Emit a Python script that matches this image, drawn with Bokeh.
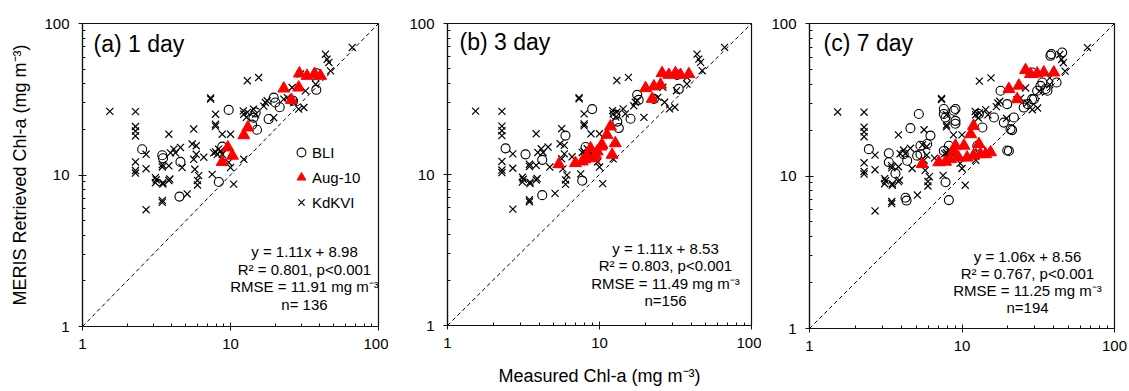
from bokeh.plotting import figure
from bokeh.layouts import row
from bokeh.models import FixedTicker, PrintfTickFormatter, Label, Legend, LegendItem
from bokeh.embed import file_html
from bokeh.resources import INLINE

# ---------------- data ----------------
major_ticks = [1, 10, 100]
minor_ticks = [2, 3, 4, 5, 6, 7, 8, 9, 20, 30, 40, 50, 60, 70, 80, 90]
one_to_one = [1, 100]

# KdKVI (same match-ups in every panel)
kd_x = [1.53, 2.28, 2.28, 2.28, 2.28, 2.28, 2.28, 2.28, 2.69, 2.69, 2.69, 3.11, 3.11, 3.15,
        3.46, 3.46, 3.46, 3.46, 3.49, 3.49, 3.83, 3.83, 3.83, 3.89, 3.93, 4.14, 4.25, 4.59, 4.71,
        5.10, 5.64, 5.51, 5.64, 5.74, 5.98, 5.98, 5.87, 5.87, 6.10, 6.60, 7.34, 7.34, 7.52,
        7.92, 7.92, 7.92, 7.92, 8.15, 8.56, 8.79, 7.70, 8.30, 8.79, 10.0, 9.72, 10.0, 10.5,
        12.3, 12.2, 12.3, 13.0, 12.8, 13.0, 15.5, 14.3, 14.8, 17.2, 17.7, 16.8, 19.6,
        22.9, 24.2, 26.1, 26.8, 28.9, 29.7, 31.3, 32.1, 37.6, 37.6, 43.8, 45.0, 46.2, 47.4, 66.5]
kd_y = [26.3, 26.2, 20.9, 19.5, 18.1, 12.2, 10.7, 10.3, 13.7, 11.0, 5.9, 9.6, 8.9, 9.3,
        11.7, 11.3, 6.6, 6.8, 8.9, 8.7, 18.6, 11.5, 9.2, 9.4, 14.0, 14.8, 14.0, 15.2, 11.2,
        7.5, 20.1, 16.0, 12.7, 10.9, 9.2, 8.6, 15.6, 13.7, 9.9, 13.1, 31.7, 32.3, 10.1,
        25.2, 21.6, 21.0, 14.2, 13.7, 14.4, 13.7, 14.0, 14.8, 18.6, 18.6, 12.1, 11.2, 8.7,
        12.7, 26.5, 25.2, 25.9, 24.0, 41.9, 44.0, 27.2, 25.2, 30.1, 30.9, 28.5, 23.9,
        31.7, 32.4, 37.8, 30.1, 27.2, 46.4, 27.9, 35.9, 39.7, 44.0, 62.7, 58.1, 55.3, 48.7, 69.5]

# BLI
bli_1d_x = [2.53, 3.46, 3.50, 4.59, 4.52, 8.34, 9.72, 8.79, 14.0, 14.3, 14.8, 15.1, 18.1,
            19.6, 20.1, 21.5, 26.5, 38.0, 38.0]
bli_1d_y = [14.8, 13.5, 12.9, 12.2, 7.2, 9.0, 26.9, 15.4, 21.5, 23.9, 25.9, 19.9, 23.4,
            32.4, 30.1, 28.0, 30.9, 36.5, 47.0]
bli_3d_x = [2.41, 3.26, 4.20, 4.20, 5.97, 7.70, 8.10, 8.95, 12.7, 13.1, 13.4, 16.0, 17.7,
            18.1, 22.8, 33.2, 32.4]
bli_3d_y = [14.9, 13.6, 12.5, 7.3, 18.1, 9.1, 15.2, 27.1, 24.9, 22.4, 20.3, 23.4, 33.7,
            31.2, 31.7, 36.9, 45.7]
bli_7d_x = [2.45, 3.31, 3.31, 3.66, 4.15, 4.26, 4.33, 4.59, 4.37, 5.21, 5.34, 5.34, 5.91,
            6.21, 5.08, 7.60, 7.80, 8.84, 9.06, 7.80, 8.20, 7.60, 8.20, 9.06, 7.60, 9.06,
            12.9, 13.6, 12.6, 13.2, 16.2, 18.8, 17.9, 19.8, 20.8, 21.3, 21.9, 19.8, 20.3,
            25.4, 27.0, 28.8, 29.6, 31.1, 32.7, 33.6, 35.3, 36.3, 41.7, 38.0, 38.5, 45.4, 28.8]
bli_7d_y = [15.0, 14.1, 12.3, 10.4, 13.9, 7.2, 6.9, 20.6, 12.6, 25.5, 15.8, 13.9, 16.2,
            18.4, 13.6, 25.5, 24.2, 26.8, 23.0, 9.1, 6.95, 14.6, 15.8, 22.0, 27.5, 27.5,
            25.5, 20.8, 15.8, 15.0, 24.2, 22.4, 36.2, 29.6, 20.3, 20.0, 24.2, 14.7, 14.6,
            28.1, 29.6, 31.9, 31.9, 36.2, 39.0, 41.0, 37.2, 36.2, 41.0, 61.4, 63.0, 64.5, 47.7]

# Aug-10
aug_1d_x = [8.79, 9.60, 10.3, 12.3, 13.1, 22.9, 25.8, 28.9, 29.2, 32.9, 37.0, 40.6]
aug_1d_y = [12.2, 15.2, 13.4, 18.3, 20.6, 37.2, 31.3, 37.8, 46.8, 45.1, 46.4, 45.1]
aug_3d_x = [5.40, 6.95, 7.70, 8.00, 8.30, 8.73, 9.17, 9.40, 9.66, 10.2, 10.4, 11.2, 11.8,
            12.1, 12.7, 20.1, 22.2, 22.8, 25.2, 25.8, 28.6, 31.6, 34.1, 38.7]
aug_3d_y = [11.7, 11.9, 12.2, 12.6, 13.2, 14.9, 12.8, 13.5, 14.2, 15.3, 15.7, 18.3, 20.8,
            13.5, 16.1, 37.3, 31.7, 38.3, 39.3, 46.9, 45.7, 46.9, 45.7, 46.2]
aug_7d_x = [5.48, 7.05, 7.80, 8.40, 8.80, 9.06, 9.50, 10.3, 10.8, 11.4, 11.9, 11.9, 12.9,
            13.2, 14.3, 15.4, 20.3, 23.6, 23.0, 26.1, 28.1, 31.1, 34.4, 40.0]
aug_7d_y = [12.0, 12.3, 12.4, 12.9, 14.6, 15.8, 13.2, 15.8, 13.2, 18.8, 21.3, 13.6, 16.2,
            13.9, 13.9, 14.3, 37.2, 39.1, 31.9, 49.5, 46.6, 47.0, 47.7, 47.7]

titles = ["(a) 1 day", "(b) 3 day", "(c) 7 day"]
stats = [
    ["y = 1.11x + 8.98", "R\u00b2 = 0.801, p<0.001", "RMSE = 11.91 mg m\u207b\u00b3", "n= 136"],
    ["y = 1.11x + 8.53", "R\u00b2 = 0.803, p<0.001", "RMSE = 11.49 mg m\u207b\u00b3", "n=156"],
    ["y = 1.06x + 8.56", "R\u00b2 = 0.767, p<0.001", "RMSE = 11.25 mg m\u207b\u00b3", "n=194"],
]
x_title = "Measured Chl-a (mg m\u207b\u00b3)"
y_title = "MERIS Retrieved Chl-a (mg m\u207b\u00b3)"
legend_labels = ["BLI", "Aug-10", "KdKVI"]

FONT = "Liberation Sans"


def panel(bli_x, bli_y, aug_x, aug_y, title, stat_lines, geom, show_legend=False,
          xlabel=None, ylabel=None):
    fw, fh, bl, br, bt, bb, title_pos, stat_pos = geom
    p = figure(x_axis_type="log", y_axis_type="log", x_range=(1, 100), y_range=(1, 100),
               frame_width=fw, frame_height=fh, min_border_left=bl, min_border_right=br,
               min_border_top=bt, min_border_bottom=bb, output_backend="svg",
               toolbar_location=None, background_fill_color="white",
               border_fill_color="white")
    p.xgrid.visible = False
    p.ygrid.visible = False
    p.outline_line_color = "#111111"
    p.outline_line_width = 1.2
    p.outline_line_alpha = 1.0
    for ax in (p.xaxis[0], p.yaxis[0]):
        ax.ticker = FixedTicker(ticks=major_ticks, minor_ticks=minor_ticks)
        ax.formatter = PrintfTickFormatter(format="%d")
        ax.major_tick_in = 4
        ax.major_tick_out = 4
        ax.minor_tick_in = 3
        ax.minor_tick_out = 0
        ax.axis_line_color = "#111111"
        ax.axis_line_width = 1.2
        ax.major_tick_line_color = "#111111"
        ax.minor_tick_line_color = "#111111"
        ax.major_label_text_font = FONT
        ax.major_label_text_font_size = "15px"
        ax.major_label_text_color = "black"
        ax.axis_label_text_font = FONT
        ax.axis_label_text_font_size = "18px"
        ax.axis_label_text_font_style = "normal"
        ax.axis_label_text_color = "black"
    p.xaxis[0].major_label_standoff = 8
    p.yaxis[0].major_label_standoff = 9
    if xlabel:
        p.xaxis[0].axis_label = xlabel
        p.xaxis[0].axis_label_standoff = 15
    if ylabel:
        p.yaxis[0].axis_label = ylabel
        p.yaxis[0].axis_label_standoff = 11

    p.line(one_to_one, one_to_one, line_color="black", line_width=1, line_dash="4 3")
    r_kd = p.scatter(kd_x, kd_y, marker="x", size=10, line_color="black", line_width=1.2)
    r_bli = p.scatter(bli_x, bli_y, marker="circle", size=9, fill_color=None,
                      line_color="black", line_width=1.1)
    r_aug = p.scatter(aug_x, aug_y, marker="triangle", size=12, fill_color="#ff0000",
                      line_color="#ff0000", line_width=1)

    p.add_layout(Label(x=title_pos[0], y=title_pos[1], x_units="screen", y_units="screen",
                       text=title, text_font=FONT, text_font_size="23px",
                       text_baseline="middle", text_align="left", text_color="black"))
    sx, sy, step = stat_pos
    for i, line in enumerate(stat_lines):
        p.add_layout(Label(x=sx, y=sy - i * step, x_units="screen", y_units="screen",
                           text=line, text_font=FONT, text_font_size="15px",
                           text_baseline="middle", text_align="center", text_color="black"))
    if show_legend:
        leg = Legend(items=[LegendItem(label=legend_labels[0], renderers=[r_bli]),
                            LegendItem(label=legend_labels[1], renderers=[r_aug]),
                            LegendItem(label=legend_labels[2], renderers=[r_kd])],
                     location=(208, 113), orientation="vertical",
                     glyph_width=22, glyph_height=22, label_height=22, spacing=3,
                     label_standoff=0, padding=0, margin=0,
                     border_line_alpha=0, background_fill_alpha=0,
                     label_text_font=FONT, label_text_font_size="15px",
                     label_text_color="black")
        p.add_layout(leg)
    return p


pa = panel(bli_1d_x, bli_1d_y, aug_1d_x, aug_1d_y, titles[0], stats[0],
           (296, 303, 82, 10, 21, 67, (11, 283), (222, 75, 17.5)),
           show_legend=True, ylabel=y_title)
pb = panel(bli_3d_x, bli_3d_y, aug_3d_x, aug_3d_y, titles[1], stats[1],
           (304, 302, 59, 10, 22, 67, (12, 284), (218, 77, 17.3)),
           xlabel=x_title)
pc = panel(bli_7d_x, bli_7d_y, aug_7d_x, aug_7d_y, titles[2], stats[2],
           (305, 305, 48, 15, 23, 63, (14, 286), (218, 72, 17)))

layout = row(pa, pb, pc, spacing=0)
open("out.html", "w").write(file_html(layout, INLINE))
